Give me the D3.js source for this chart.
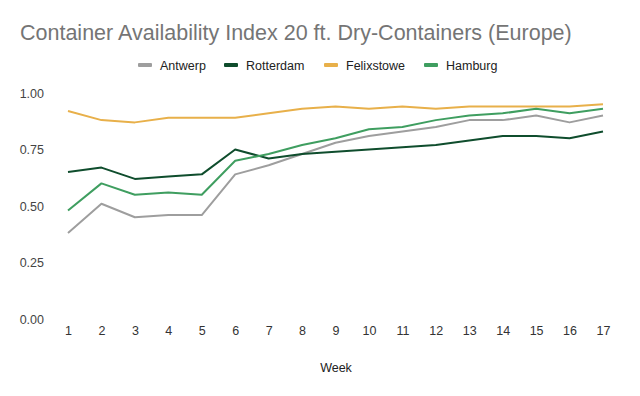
<!DOCTYPE html>
<html><head><meta charset="utf-8">
<script src="https://cdn.jsdelivr.net/npm/d3@7/dist/d3.min.js"></script>
<style>body{margin:0;background:#fff}svg{display:block;font-family:"Liberation Sans",Arial,sans-serif}</style>
</head><body><svg id="c" width="640" height="396"></svg>
<script>
const weeks = [1,2,3,4,5,6,7,8,9,10,11,12,13,14,15,16,17];
const antwerp    = [0.38,0.51,0.45,0.46,0.46,0.64,0.68,0.73,0.78,0.81,0.83,0.85,0.88,0.88,0.90,0.87,0.90];
const rotterdam  = [0.65,0.67,0.62,0.63,0.64,0.75,0.71,0.73,0.74,0.75,0.76,0.77,0.79,0.81,0.81,0.80,0.83];
const felixstowe = [0.92,0.88,0.87,0.89,0.89,0.89,0.91,0.93,0.94,0.93,0.94,0.93,0.94,0.94,0.94,0.94,0.95];
const hamburg    = [0.48,0.60,0.55,0.56,0.55,0.70,0.73,0.77,0.80,0.84,0.85,0.88,0.90,0.91,0.93,0.91,0.93];
const seriesNames = ["Antwerp","Rotterdam","Felixstowe","Hamburg"];
const yTicks = [0,0.25,0.5,0.75,1];
const colors = ["#9e9e9e","#0f4d2d","#e8b04a","#3f9e60"];
const series = [antwerp, rotterdam, felixstowe, hamburg];

const svg = d3.select("#c");
const x = d3.scaleLinear().domain([1,17]).range([68,603]);
const y = d3.scaleLinear().domain([0,1]).range([319,93]);

svg.append("text").attr("x",20).attr("y",40).attr("font-size",21.5)
  .attr("fill","#757575").text("Container Availability Index 20 ft. Dry-Containers (Europe)");

// legend
const legX = [138,224,324,424];
const leg = svg.append("g");
seriesNames.forEach((n,i)=>{
  leg.append("rect").attr("x",legX[i]).attr("y",63).attr("width",14).attr("height",4).attr("rx",1).attr("fill",colors[i]);
  leg.append("text").attr("x",legX[i]+22).attr("y",69.5).attr("font-size",12.5).attr("fill","#222").text(n);
});

// y axis
const ya = svg.append("g").attr("transform","translate(44,0)")
  .call(d3.axisLeft(y).tickValues(yTicks).tickFormat(d3.format(".2f")).tickSize(0).tickPadding(0));
ya.select(".domain").remove();
ya.selectAll("text").attr("font-size",12.5).attr("fill","#444").attr("font-family","Liberation Sans, Arial, sans-serif");

// x axis
const xa = svg.append("g").attr("transform","translate(0,326)")
  .call(d3.axisBottom(x).tickValues(weeks).tickFormat(d3.format("d")).tickSize(0).tickPadding(0));
xa.select(".domain").remove();
xa.selectAll("text").attr("font-size",12.5).attr("fill","#333").attr("font-family","Liberation Sans, Arial, sans-serif");

svg.append("text").attr("x",336).attr("y",372).attr("text-anchor","middle").attr("font-size",12.5).attr("fill","#222").text("Week");

const line = d3.line().x((d,i)=>x(weeks[i])).y(d=>y(d));
series.forEach((s,i)=>{
  svg.append("path").datum(s).attr("d",line).attr("fill","none")
    .attr("stroke",colors[i]).attr("stroke-width",2).attr("stroke-linejoin","round");
});
</script></body></html>
